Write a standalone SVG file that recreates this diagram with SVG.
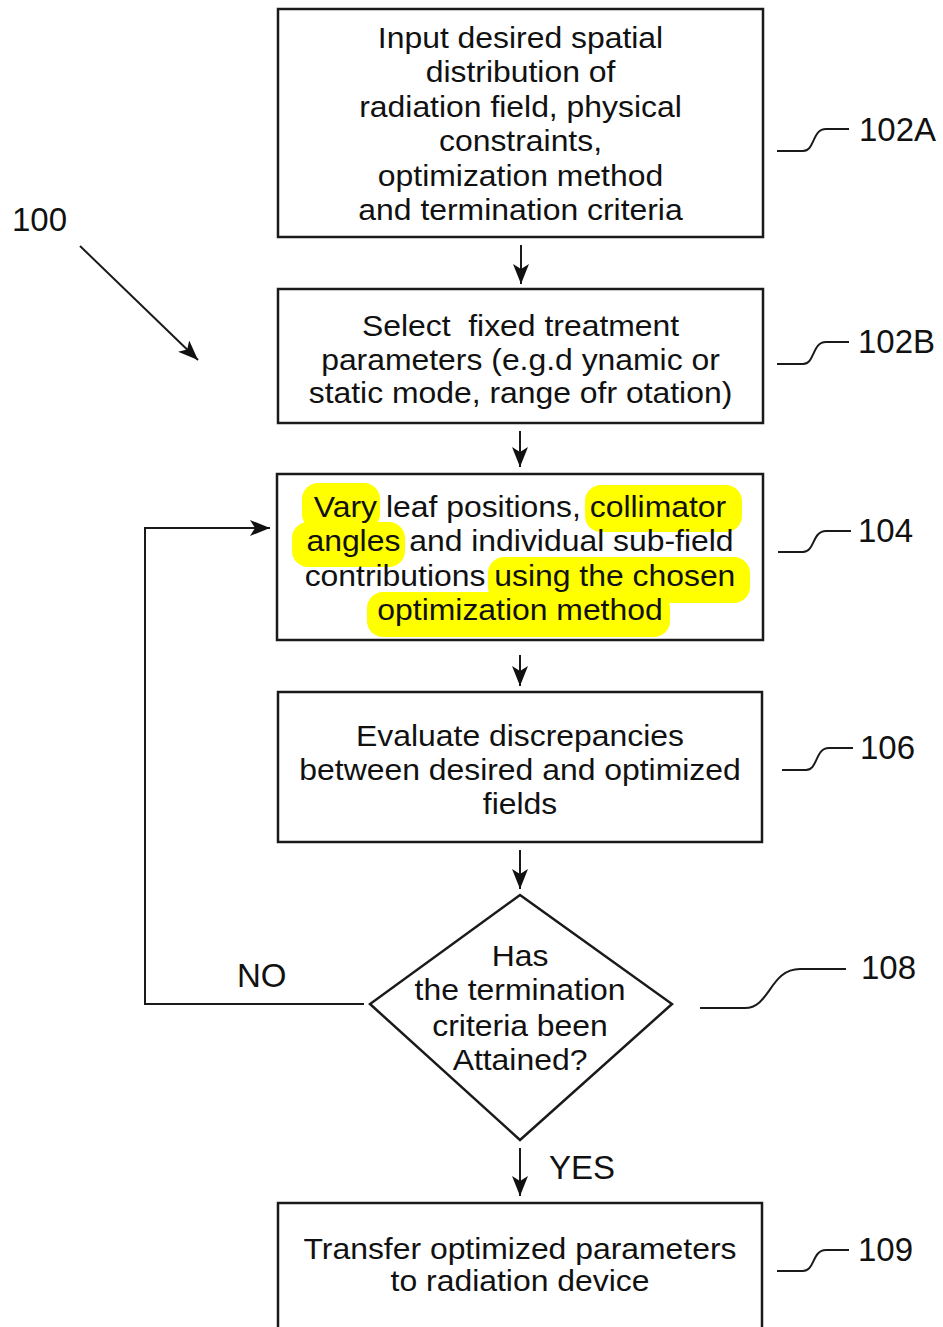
<svg xmlns="http://www.w3.org/2000/svg" width="943" height="1327" viewBox="0 0 943 1327">
<style>
.box{fill:#fff;stroke:#1a1a1a;stroke-width:2.5}
.t{font-family:"Liberation Sans",Arial,sans-serif;font-size:29px;fill:#111;text-anchor:middle}
.lbl{font-family:"Liberation Sans",Arial,sans-serif;font-size:33px;fill:#111}
.ln{fill:none;stroke:#1a1a1a;stroke-width:2}
.ldr{fill:none;stroke:#1a1a1a;stroke-width:2}
.hl{fill:#ffff00}
</style>
<defs>
<marker id="ah" viewBox="0 0 20 16" refX="20" refY="8" markerWidth="20" markerHeight="16" markerUnits="userSpaceOnUse" orient="auto">
<path d="M0,0 L20,8 L0,16 L5,8 Z" fill="#111"/>
</marker>
</defs>
<rect width="943" height="1327" fill="#fff"/>

<g id="node-102A">
<rect class="box" x="278" y="9" width="485" height="228"/>
<g transform="translate(520.5 0) scale(1.1 1)">
<text class="t" x="0" y="48">Input desired spatial</text>
<text class="t" x="0" y="82.5">distribution of</text>
<text class="t" x="0" y="117">radiation field, physical</text>
<text class="t" x="0" y="151">constraints,</text>
<text class="t" x="0" y="186">optimization method</text>
<text class="t" x="0" y="220">and termination criteria</text>
</g>
</g>

<g id="node-102B">
<rect class="box" x="278" y="289" width="485" height="134"/>
<g transform="translate(520.5 0) scale(1.1 1)">
<text class="t" x="0" y="336" xml:space="preserve">Select  fixed treatment</text>
<text class="t" x="0" y="370">parameters (e.g.d ynamic or</text>
<text class="t" x="0" y="403">static mode, range ofr otation)</text>
</g>
</g>

<g id="node-104">
<rect class="box" x="277" y="474" width="486" height="166"/>
<rect class="hl" x="302" y="483" width="78" height="47" rx="16"/>
<rect class="hl" x="585" y="485" width="157" height="47" rx="16"/>
<rect class="hl" x="292" y="522" width="113" height="45" rx="16"/>
<rect class="hl" x="488" y="557" width="262" height="46" rx="16"/>
<rect class="hl" x="367" y="592" width="303" height="45" rx="16"/>
<g transform="translate(520 0) scale(1.1 1)">
<text class="t" x="0" y="517">Vary leaf positions, collimator</text>
<text class="t" x="0" y="551">angles and individual sub-field</text>
<text class="t" x="0" y="586">contributions using the chosen</text>
<text class="t" x="0" y="620">optimization method</text>
</g>
</g>

<g id="node-106">
<rect class="box" x="278" y="692" width="484" height="150"/>
<g transform="translate(520 0) scale(1.1 1)">
<text class="t" x="0" y="746">Evaluate discrepancies</text>
<text class="t" x="0" y="780">between desired and optimized</text>
<text class="t" x="0" y="814">fields</text>
</g>
</g>

<g id="node-108">
<polygon class="box" points="520,895 672,1004 520,1140 370,1004"/>
<g transform="translate(520 0) scale(1.1 1)">
<text class="t" x="0" y="966">Has</text>
<text class="t" x="0" y="1000">the termination</text>
<text class="t" x="0" y="1036">criteria been</text>
<text class="t" x="0" y="1070">Attained?</text>
</g>
</g>

<g id="node-109">
<rect class="box" x="278" y="1203" width="484" height="140"/>
<g transform="translate(520 0) scale(1.1 1)">
<text class="t" x="0" y="1259">Transfer optimized parameters</text>
<text class="t" x="0" y="1291">to radiation device</text>
</g>
</g>

<g id="connectors">
<line class="ln" x1="521" y1="245" x2="521" y2="284" marker-end="url(#ah)"/>
<line class="ln" x1="520" y1="431" x2="520" y2="467" marker-end="url(#ah)"/>
<line class="ln" x1="520" y1="655" x2="520" y2="686" marker-end="url(#ah)"/>
<line class="ln" x1="520" y1="850" x2="520" y2="889" marker-end="url(#ah)"/>
<line class="ln" x1="520" y1="1148" x2="520" y2="1196" marker-end="url(#ah)"/>
<polyline class="ln" points="364,1004 145,1004 145,528 270,528" marker-end="url(#ah)"/>
<line class="ln" x1="80" y1="246" x2="198" y2="360" marker-end="url(#ah)"/>
<text class="lbl" x="237" y="987">NO</text>
<text class="lbl" x="549" y="1179">YES</text>
</g>

<g id="ref-labels">
<text class="lbl" x="12" y="231">100</text>
<path class="ldr" d="M777,151 L803,151 C815,151 812,129 826,129 L849,129"/>
<text class="lbl" x="859" y="141">102A</text>
<path class="ldr" d="M777,364 L803,364 C815,364 812,342 826,342 L849,342"/>
<text class="lbl" x="858" y="353">102B</text>
<path class="ldr" d="M778,552 L803,552 C815,552 812,531 826,531 L851,531"/>
<text class="lbl" x="858" y="542">104</text>
<path class="ldr" d="M782,770 L806,770 C818,770 815,748 829,748 L853,748"/>
<text class="lbl" x="860" y="759">106</text>
<path class="ldr" d="M700,1008 L745,1008 C770,1008 770,969 800,969 L846,969"/>
<text class="lbl" x="861" y="979">108</text>
<path class="ldr" d="M777,1271 L803,1271 C815,1271 812,1250 826,1250 L849,1250"/>
<text class="lbl" x="858" y="1261">109</text>
</g>
</svg>
